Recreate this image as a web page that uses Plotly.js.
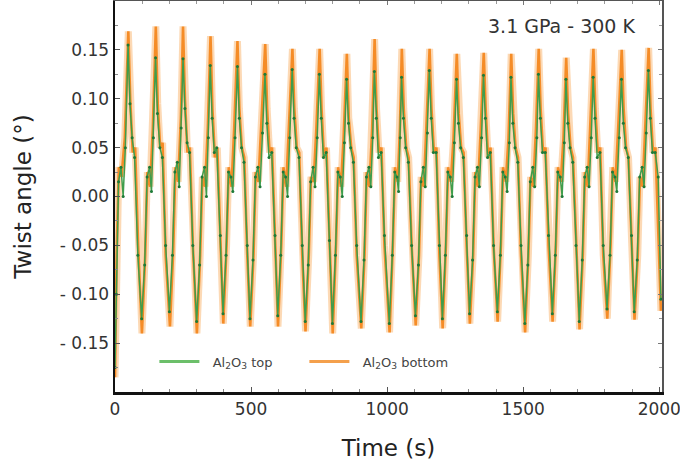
<!DOCTYPE html>
<html>
<head>
<meta charset="utf-8">
<script src="https://cdn.plot.ly/plotly-3.0.1.min.js"></script>
<style>html,body{margin:0;padding:0;background:#fff;}#chart{width:680px;height:471px;}</style>
</head>
<body>
<div id="chart"></div>
<script>
// Al2O3 bottom (orange) — key points read per oscillation cycle
const bottomTime = [
  0, 6, 14, 24, 36, 49, 56, 65, 74, 85,
  99, 111, 119, 129, 139, 150, 157, 166, 175, 186,
  202, 214, 222, 232, 242, 250, 257, 266, 275, 286,
  301, 313, 321, 331, 341, 351, 358, 367, 376, 387,
  398, 410, 418, 428, 438, 450, 457, 466, 475, 486,
  497, 509, 517, 527, 537, 552, 559, 568, 577, 588,
  599, 611, 619, 629, 639, 652, 659, 668, 677, 688,
  700, 712, 720, 730, 740, 752, 759, 768, 777, 788,
  800, 812, 820, 830, 840, 852, 859, 868, 877, 888,
  905, 917, 925, 935, 945, 954, 961, 970, 979, 990,
  1009, 1021, 1029, 1039, 1047, 1054, 1061, 1070, 1079, 1090,
  1105, 1117, 1125, 1135, 1145, 1156, 1163, 1172, 1181, 1192,
  1204, 1216, 1224, 1234, 1244, 1256, 1263, 1272, 1281, 1292,
  1304, 1316, 1324, 1334, 1344, 1355, 1362, 1371, 1380, 1391,
  1406, 1418, 1426, 1436, 1446, 1456, 1463, 1472, 1481, 1492,
  1507, 1519, 1527, 1537, 1547, 1557, 1564, 1573, 1582, 1593,
  1608, 1620, 1628, 1638, 1648, 1658, 1665, 1674, 1683, 1694,
  1707, 1719, 1727, 1737, 1747, 1758, 1765, 1774, 1783, 1794,
  1809, 1821, 1829, 1839, 1849, 1862, 1869, 1878, 1887, 1898,
  1909, 1921, 1929, 1939, 1949, 1961, 1968, 1977, 1986, 2006
];
const bottomAngle = [
  -0.185, -0.06, 0.03, 0.02, 0.06, 0.169, 0.10, 0.045, 0.05, -0.05,
  -0.140, -0.06, 0.025, 0.01, 0.07, 0.174, 0.095, 0.05, 0.055, -0.06,
  -0.133, -0.055, 0.03, 0.015, 0.08, 0.174, 0.10, 0.045, 0.05, -0.05,
  -0.140, -0.06, 0.02, 0.01, 0.07, 0.164, 0.09, 0.04, 0.05, -0.05,
  -0.130, -0.05, 0.03, 0.01, 0.07, 0.159, 0.09, 0.05, 0.04, -0.06,
  -0.133, -0.06, 0.025, 0.015, 0.07, 0.156, 0.09, 0.045, 0.05, -0.05,
  -0.133, -0.05, 0.03, 0.01, 0.07, 0.151, 0.09, 0.05, 0.045, -0.06,
  -0.138, -0.06, 0.02, 0.015, 0.07, 0.151, 0.09, 0.04, 0.05, -0.05,
  -0.140, -0.05, 0.03, 0.01, 0.06, 0.146, 0.08, 0.05, 0.04, -0.06,
  -0.135, -0.06, 0.025, 0.01, 0.07, 0.161, 0.09, 0.045, 0.05, -0.05,
  -0.139, -0.05, 0.03, 0.015, 0.07, 0.151, 0.09, 0.05, 0.04, -0.05,
  -0.132, -0.06, 0.02, 0.01, 0.07, 0.151, 0.09, 0.045, 0.05, -0.06,
  -0.135, -0.05, 0.03, 0.015, 0.06, 0.146, 0.085, 0.05, 0.045, -0.05,
  -0.130, -0.06, 0.025, 0.01, 0.07, 0.147, 0.09, 0.04, 0.05, -0.05,
  -0.128, -0.05, 0.03, 0.015, 0.06, 0.146, 0.085, 0.05, 0.04, -0.06,
  -0.139, -0.06, 0.02, 0.01, 0.07, 0.151, 0.09, 0.045, 0.05, -0.05,
  -0.128, -0.05, 0.03, 0.015, 0.06, 0.142, 0.085, 0.05, 0.04, -0.05,
  -0.136, -0.06, 0.025, 0.01, 0.07, 0.151, 0.09, 0.045, 0.05, -0.06,
  -0.125, -0.05, 0.03, 0.015, 0.07, 0.150, 0.09, 0.05, 0.04, -0.05,
  -0.126, -0.06, 0.02, 0.01, 0.07, 0.152, 0.09, 0.045, 0.05, -0.117
];
// Al2O3 top (green)
const topTime = [
  0, 5, 13, 22, 30, 38, 48, 55, 63, 72, 84,
  98, 109, 118, 127, 134, 141, 149, 156, 165, 174, 186,
  200, 211, 220, 229, 236, 243, 250, 257, 265, 274, 286,
  300, 311, 320, 329, 336, 343, 350, 357, 365, 374, 387,
  397, 408, 417, 426, 433, 441, 450, 457, 465, 474, 486,
  496, 507, 516, 525, 533, 542, 551, 558, 566, 576, 588,
  598, 609, 618, 627, 634, 642, 651, 658, 666, 676, 688,
  699, 710, 719, 728, 735, 743, 751, 758, 766, 776, 788,
  799, 810, 819, 828, 835, 843, 851, 858, 866, 876, 888,
  904, 915, 924, 933, 940, 947, 953, 960, 968, 978, 990,
  1008, 1019, 1028, 1036, 1042, 1048, 1053, 1060, 1068, 1078, 1090,
  1104, 1115, 1124, 1133, 1140, 1148, 1155, 1162, 1170, 1180, 1192,
  1203, 1214, 1223, 1232, 1239, 1247, 1255, 1262, 1270, 1280, 1292,
  1303, 1314, 1323, 1332, 1339, 1347, 1354, 1361, 1369, 1379, 1391,
  1405, 1416, 1425, 1434, 1441, 1449, 1455, 1462, 1470, 1480, 1492,
  1506, 1517, 1526, 1535, 1542, 1550, 1556, 1563, 1571, 1581, 1593,
  1607, 1618, 1627, 1636, 1643, 1651, 1657, 1664, 1672, 1682, 1694,
  1706, 1717, 1726, 1735, 1742, 1750, 1757, 1764, 1772, 1782, 1794,
  1808, 1819, 1828, 1837, 1844, 1853, 1861, 1868, 1876, 1886, 1898,
  1908, 1919, 1928, 1937, 1944, 1952, 1960, 1967, 1975, 1985, 1996, 2006
];
const topAngle = [
  -0.175, -0.10, 0.015, 0.03, 0.00, 0.05, 0.155, 0.095, 0.06, 0.04, -0.06,
  -0.125, -0.07, 0.02, 0.03, 0.005, 0.06, 0.142, 0.085, 0.05, 0.04, -0.05,
  -0.118, -0.06, 0.025, 0.035, 0.01, 0.07, 0.141, 0.09, 0.055, 0.045, -0.05,
  -0.128, -0.07, 0.02, 0.03, 0.00, 0.06, 0.134, 0.08, 0.045, 0.05, -0.04,
  -0.120, -0.06, 0.025, 0.02, 0.005, 0.06, 0.133, 0.08, 0.05, 0.035, -0.05,
  -0.125, -0.065, 0.02, 0.03, 0.01, 0.065, 0.125, 0.075, 0.04, 0.045, -0.04,
  -0.122, -0.06, 0.025, 0.02, 0.00, 0.06, 0.130, 0.08, 0.05, 0.04, -0.05,
  -0.128, -0.07, 0.015, 0.03, 0.01, 0.06, 0.125, 0.08, 0.04, 0.045, -0.045,
  -0.130, -0.06, 0.025, 0.02, 0.00, 0.055, 0.120, 0.075, 0.05, 0.035, -0.05,
  -0.128, -0.065, 0.02, 0.03, 0.01, 0.06, 0.128, 0.08, 0.04, 0.045, -0.04,
  -0.130, -0.06, 0.025, 0.02, 0.005, 0.06, 0.122, 0.08, 0.05, 0.035, -0.05,
  -0.122, -0.07, 0.015, 0.03, 0.01, 0.065, 0.129, 0.08, 0.045, 0.045, -0.05,
  -0.125, -0.06, 0.025, 0.02, 0.00, 0.055, 0.120, 0.075, 0.05, 0.04, -0.04,
  -0.120, -0.065, 0.02, 0.03, 0.01, 0.06, 0.124, 0.08, 0.04, 0.045, -0.05,
  -0.118, -0.06, 0.025, 0.02, 0.005, 0.055, 0.122, 0.075, 0.05, 0.035, -0.05,
  -0.130, -0.07, 0.015, 0.03, 0.01, 0.06, 0.125, 0.08, 0.045, 0.045, -0.04,
  -0.120, -0.06, 0.025, 0.02, 0.00, 0.055, 0.120, 0.075, 0.05, 0.035, -0.05,
  -0.128, -0.065, 0.02, 0.03, 0.01, 0.06, 0.122, 0.08, 0.04, 0.045, -0.05,
  -0.115, -0.06, 0.025, 0.02, 0.005, 0.06, 0.120, 0.075, 0.05, 0.04, -0.04,
  -0.118, -0.065, 0.02, 0.03, 0.01, 0.065, 0.129, 0.08, 0.045, 0.045, 0.02, -0.105
];
const xTickVals = [0, 500, 1000, 1500, 2000];
const xTickText = ['0', '500', '1000', '1500', '2000'];
const yTickVals = [-0.15, -0.10, -0.05, 0.00, 0.05, 0.10, 0.15];
const yTickText = ['- 0.15', '- 0.10', '- 0.05', '0.00', '0.05', '0.10', '0.15'];
const seriesNames = ['\u00a0\u00a0Al<sub>2</sub>O<sub>3</sub> top', '\u00a0\u00a0Al<sub>2</sub>O<sub>3</sub> bottom'];

const FONT = 'DejaVu Sans, Liberation Sans, sans-serif';

const traces = [
  // soft halo of the noisy orange signal
  {x: bottomTime, y: bottomAngle, type: 'scatter', mode: 'lines', showlegend: false,
   line: {color: 'rgba(248,170,90,0.45)', width: 7}},
  {x: bottomTime, y: bottomAngle, type: 'scatter', mode: 'lines', showlegend: false,
   line: {color: 'rgba(244,136,32,0.95)', width: 2.6}},
  {x: topTime, y: topAngle, type: 'scatter', mode: 'lines+markers', showlegend: false,
   line: {color: '#3f9d4c', width: 1.5},
   marker: {color: '#1d7a38', size: 3}},
  // legend entries
  {x: [null], y: [null], type: 'scatter', mode: 'lines', name: seriesNames[0],
   line: {color: '#6cbf6a', width: 3}},
  {x: [null], y: [null], type: 'scatter', mode: 'lines', name: seriesNames[1],
   line: {color: '#f4a04c', width: 3}}
];

const layout = {
  width: 680, height: 471,
  margin: {l: 115, r: 18, t: 1, b: 79},
  paper_bgcolor: '#fff', plot_bgcolor: '#fff',
  font: {family: FONT, color: '#333'},
  showlegend: true,
  legend: {
    orientation: 'h', x: 0.072, y: 0.078, xanchor: 'left', yanchor: 'middle',
    bgcolor: 'rgba(0,0,0,0)', font: {family: FONT, size: 13, color: '#444'},
    itemwidth: 40, entrywidth: 95, entrywidthmode: 'pixels'
  },
  xaxis: {
    range: [0, 2010],
    tickvals: xTickVals, ticktext: xTickText,
    ticks: 'inside', ticklen: 5, tickwidth: 1, tickcolor: '#555',
    minor: {dtick: 100, ticks: 'inside', ticklen: 3, tickcolor: '#888'},
    showline: true, linecolor: '#111', linewidth: 2.5,
    showgrid: false, zeroline: false, ticklabeloverflow: 'allow',
    tickfont: {size: 17, color: '#333'},
    title: {text: 'Time (s)', font: {size: 23, color: '#222'}, standoff: 22}
  },
  yaxis: {
    range: [-0.2, 0.2],
    tickvals: yTickVals, ticktext: yTickText,
    ticks: 'inside', ticklen: 5, tickwidth: 1, tickcolor: '#555',
    minor: {dtick: 0.025, ticks: 'inside', ticklen: 3, tickcolor: '#888'},
    showline: true, linecolor: '#111', linewidth: 2.5,
    showgrid: false, zeroline: false,
    tickfont: {size: 17, color: '#333'},
    title: {text: 'Twist angle (°)', font: {size: 23, color: '#222'}, standoff: 22}
  },
  xaxis2: {
    overlaying: 'x', matches: 'x', side: 'top', range: [0, 2010],
    showticklabels: false, ticks: 'inside', ticklen: 4, tickcolor: '#777',
    tickvals: xTickVals,
    minor: {dtick: 100, ticks: 'inside', ticklen: 3, tickcolor: '#999'},
    showline: true, linecolor: '#555', linewidth: 1.5, showgrid: false, zeroline: false
  },
  yaxis2: {
    overlaying: 'y', matches: 'y', side: 'right', range: [-0.2, 0.2],
    showticklabels: false, ticks: 'inside', ticklen: 4, tickcolor: '#777',
    tickvals: yTickVals,
    minor: {dtick: 0.025, ticks: 'inside', ticklen: 3, tickcolor: '#999'},
    showline: true, linecolor: '#555', linewidth: 1.5, showgrid: false, zeroline: false
  },
  annotations: [{
    text: '3.1 GPa - 300 K', xref: 'paper', yref: 'paper',
    x: 0.955, y: 0.937, xanchor: 'right', yanchor: 'middle', showarrow: false,
    font: {family: FONT, size: 19, color: '#333'}
  }]
};

// invisible carrier trace so the mirrored top/right axes are drawn
traces.push({x: [null], y: [null], xaxis: 'x2', yaxis: 'y2', type: 'scatter',
  mode: 'lines', showlegend: false, hoverinfo: 'skip'});

Plotly.newPlot('chart', traces, layout, {displayModeBar: false, staticPlot: true});
</script>
</body>
</html>
